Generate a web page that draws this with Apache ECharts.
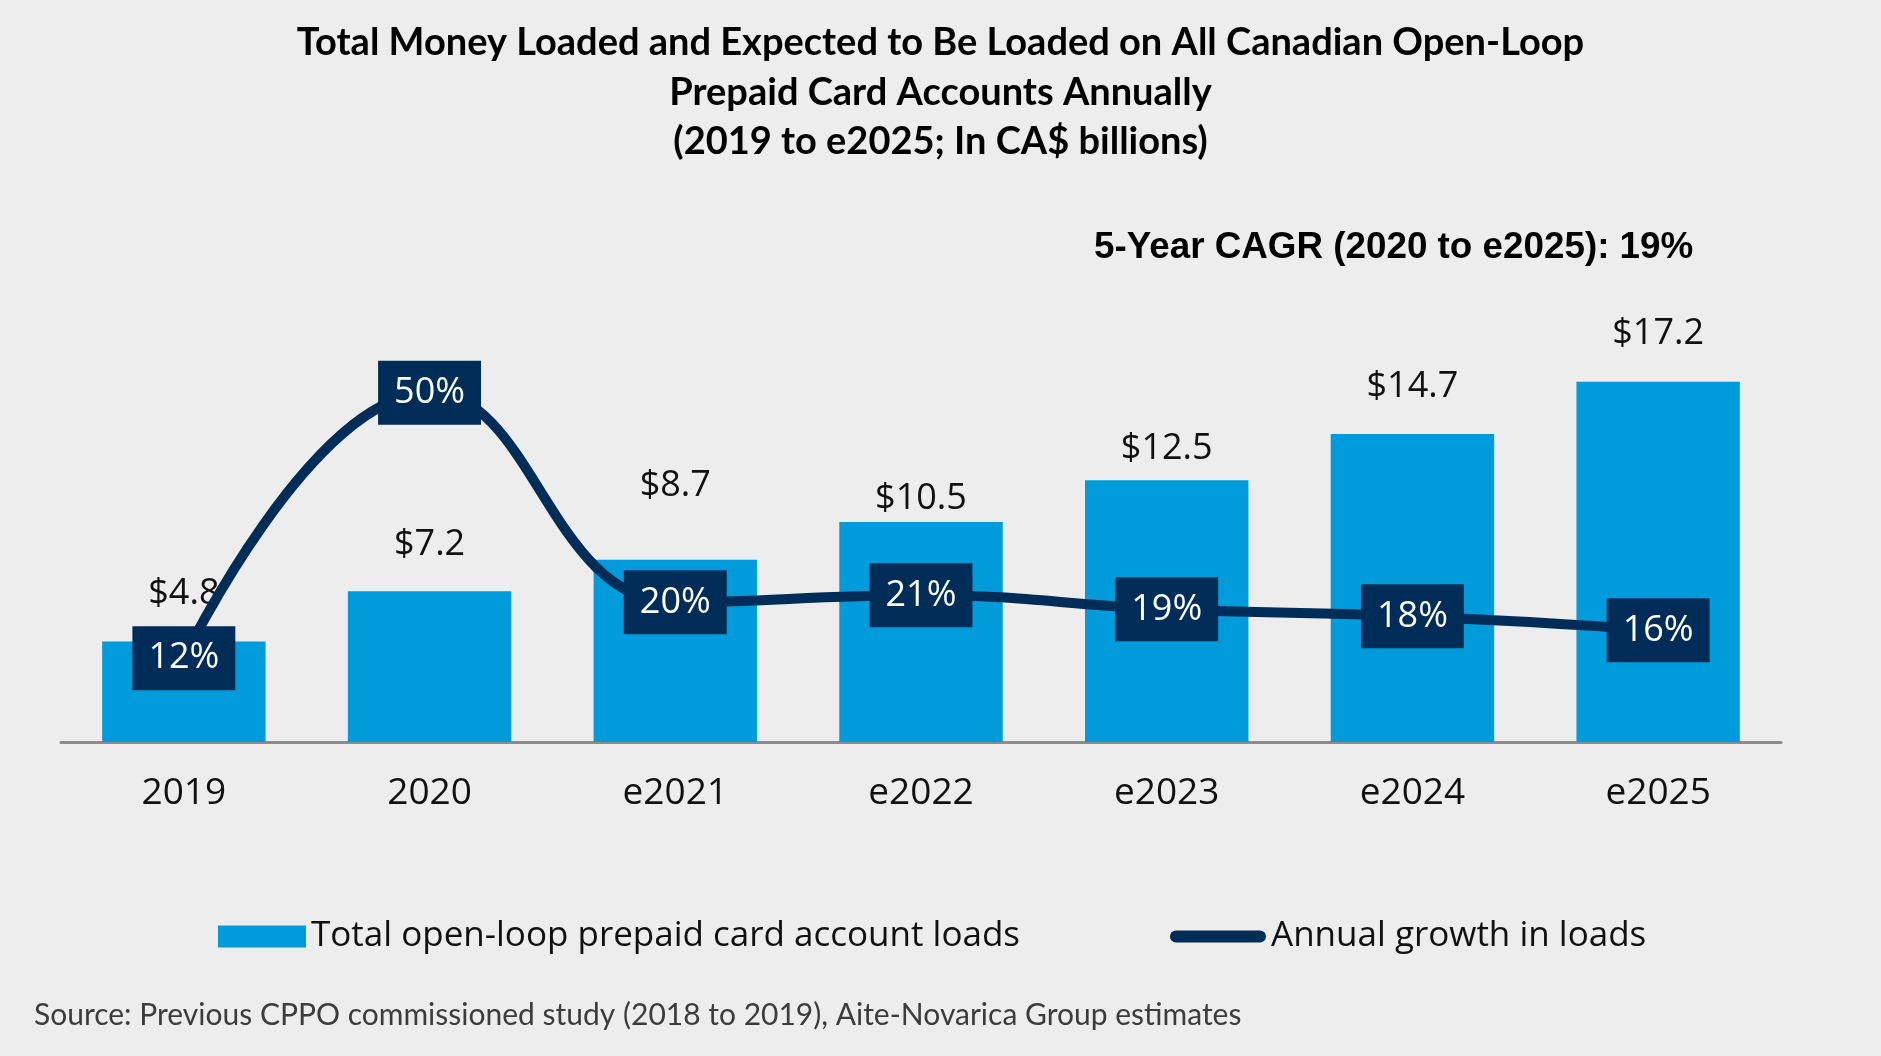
<!DOCTYPE html>
<html>
<head>
<meta charset="utf-8">
<script src="https://cdn.jsdelivr.net/npm/echarts@6/dist/echarts.min.js"></script>
<style>
html,body{margin:0;padding:0;background:#ECEDEC;}
#c{width:1881px;height:1056px;}
</style>
</head>
<body>
<div id="c"></div>
<script>
const categories = ['2019', '2020', 'e2021', 'e2022', 'e2023', 'e2024', 'e2025'];
const loads = [4.8, 7.2, 8.7, 10.5, 12.5, 14.7, 17.2];
const growth = [12, 50, 20, 21, 19, 18, 16];
const barName = 'Total open-loop prepaid card account loads';
const lineName = 'Annual growth in loads';
const titleText = 'Total Money Loaded and Expected to Be Loaded on All Canadian Open-Loop\nPrepaid Card Accounts Annually\n(2019 to e2025; In CA$ billions)';
const cagrText = '5-Year CAGR (2020 to e2025): 19%';
const sourceText = 'Source: Previous CPPO commissioned study (2018 to 2019), Aite-Novarica Group estimates';

// label placement (style, not data): distance of value label above bar top
const barLabelDistance = [28, 26, 54, 3, 11, 27, 28];

const BAR = '#009BDA';
const NAVY = '#002D57';
const FONT = '"Open Sans", "Noto Sans", sans-serif';

const chart = echarts.init(document.getElementById('c'), null, {renderer: 'canvas'});
chart.setOption({
  backgroundColor: '#ECEDEC',
  animation: false,
  title: [
    {
      text: titleText,
      left: 'center',
      top: 18,
      padding: [0, 0, 0, 24],
      textStyle: {fontFamily: 'Lato, sans-serif', fontWeight: 'bold', fontSize: 38, lineHeight: 49.5, color: '#000', align: 'center'}
    },
    {
      text: cagrText,
      left: 1094,
      top: 226,
      padding: 0,
      textStyle: {fontFamily: '"Liberation Sans", Arial, sans-serif', fontWeight: 'bold', fontSize: 36.8, lineHeight: 43, color: '#000'}
    },
    {
      text: sourceText,
      left: 34,
      top: 996,
      padding: 0,
      textStyle: {fontFamily: 'Lato, sans-serif', fontWeight: 'normal', fontSize: 30, lineHeight: 38, color: '#3c3c3c'}
    }
  ],
  legend: [
    {
      data: [{name: barName, icon: 'rect'}],
      left: 218,
      top: 919,
      padding: 0,
      itemWidth: 88,
      itemHeight: 22,
      textStyle: {fontFamily: FONT, fontSize: 35, color: '#111'}
    },
    {
      data: [{name: lineName, icon: 'path://M6,0 H90 A6,6 0 0 1 90,12 H6 A6,6 0 0 1 6,0 Z'}],
      left: 1170,
      top: 919,
      padding: 0,
      itemWidth: 96,
      itemHeight: 12,
      textStyle: {fontFamily: FONT, fontSize: 35, color: '#111'}
    }
  ],
  grid: {left: 61, right: 100, top: 323, bottom: 314, containLabel: false},
  xAxis: {
    type: 'category',
    data: categories,
    axisLine: {lineStyle: {color: '#8c8c8c', width: 3}},
    axisTick: {show: false},
    axisLabel: {fontFamily: FONT, fontSize: 37, color: '#111', margin: 33}
  },
  yAxis: [
    {type: 'value', min: 0, max: 20, show: false, splitLine: {show: false}},
    {type: 'value', min: 0, max: 60, show: false, splitLine: {show: false}}
  ],
  series: [
    {
      name: barName,
      type: 'bar',
      data: loads.map((v, i) => ({
        value: v,
        label: {distance: barLabelDistance[i]}
      })),
      barCategoryGap: '33.5%',
      itemStyle: {color: BAR},
      label: {
        show: true,
        position: 'top',
        formatter: p => '$' + p.value.toFixed(1),
        fontFamily: FONT,
        fontSize: 36,
        lineHeight: 40,
        color: '#111'
      },
      z: 2
    },
    {
      name: lineName,
      type: 'line',
      yAxisIndex: 1,
      data: growth,
      smooth: 0.45,
      symbol: 'circle',
      symbolSize: 1,
      itemStyle: {color: NAVY},
      lineStyle: {color: NAVY, width: 10},
      label: {
        show: true,
        position: 'inside',
        formatter: p => p.value + '%',
        fontFamily: FONT,
        fontSize: 36,
        lineHeight: 40,
        color: '#fff',
        backgroundColor: NAVY,
        padding: [12, 16, 12, 16]
      },
      z: 5
    }
  ]
});
</script>
</body>
</html>
